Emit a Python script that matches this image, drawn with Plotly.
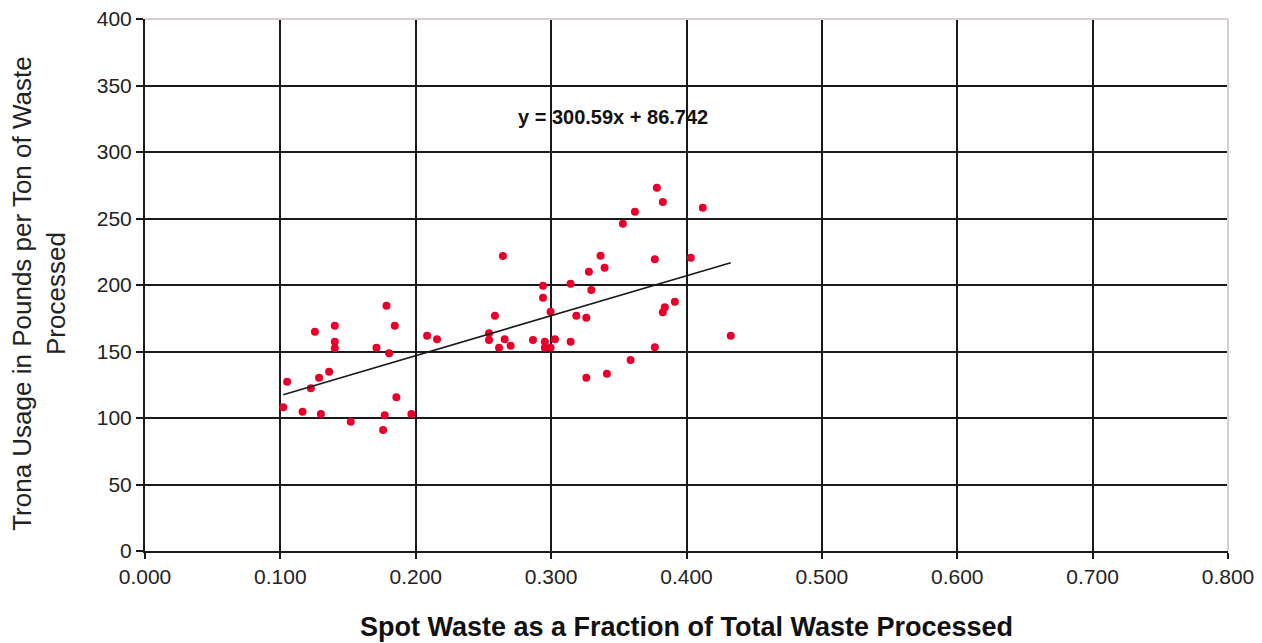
import numpy as np
import plotly.graph_objects as go

# Data
spot_fraction = [
    0.1784, 0.1845, 0.1255, 0.1402, 0.1402, 0.1402, 0.1710, 0.1803, 0.2084, 0.2157,
    0.1050, 0.1286, 0.1360, 0.1225, 0.1021, 0.1164, 0.1299, 0.1857, 0.1771, 0.1968,
    0.1520, 0.1759,
    0.2644, 0.2940, 0.2940, 0.3144, 0.3279, 0.3297, 0.2996, 0.2585, 0.3186, 0.3260,
    0.2541, 0.2541, 0.2657, 0.2615, 0.2701, 0.2866, 0.2954, 0.2954, 0.2996, 0.3028,
    0.3144, 0.3260,
    0.3781, 0.3825, 0.3619, 0.4120, 0.3530, 0.3365, 0.3395, 0.3766, 0.4032, 0.3914,
    0.3840, 0.3825, 0.4327, 0.3766, 0.3587, 0.3412,
]
trona_usage = [
    184.4, 169.4, 164.9, 169.4, 157.4, 152.4, 152.9, 148.6, 161.9, 159.2,
    127.3, 130.3, 134.8, 122.3, 108.0, 104.7, 103.0, 115.6, 102.0, 103.0,
    97.2, 91.0,
    221.8, 199.5, 190.5, 201.0, 210.0, 196.2, 179.9, 176.9, 176.9, 175.4,
    163.7, 158.6, 159.2, 152.9, 154.4, 158.6, 157.4, 152.9, 152.9, 159.2,
    157.4, 130.3,
    273.2, 262.4, 255.1, 258.1, 246.1, 222.0, 213.0, 219.3, 220.5, 187.4,
    183.2, 179.5, 161.9, 153.2, 143.6, 133.3,
]
trend_slope = 300.59
trend_intercept = 86.742
x_ticks = [0.0, 0.1, 0.2, 0.3, 0.4, 0.5, 0.6, 0.7, 0.8]
x_tick_labels = ["0.000", "0.100", "0.200", "0.300", "0.400", "0.500", "0.600", "0.700", "0.800"]
y_ticks = [0, 50, 100, 150, 200, 250, 300, 350, 400]

tx = np.array([min(spot_fraction), max(spot_fraction)])
ty = trend_slope * tx + trend_intercept

FONT = "Liberation Sans, Arial, sans-serif"

fig = go.Figure()
fig.add_trace(go.Scatter(
    x=spot_fraction, y=trona_usage, mode="markers",
    marker=dict(color="#E8002A", size=8, line=dict(width=0)),
    showlegend=False, hoverinfo="x+y",
))
fig.add_trace(go.Scatter(
    x=tx, y=ty, mode="lines",
    line=dict(color="#1a1a1a", width=1.6),
    showlegend=False, hoverinfo="skip",
))

axis_font = dict(family=FONT, size=21, color="#222222")

fig.update_layout(
    width=1262, height=643,
    margin=dict(l=145, r=34, t=19, b=92),
    paper_bgcolor="white", plot_bgcolor="white",
    font=dict(family=FONT, color="#222222"),
    xaxis=dict(
        range=[0, 0.8], tickvals=x_ticks, ticktext=x_tick_labels,
        showgrid=True, gridcolor="#1a1a1a", gridwidth=2,
        showline=True, linecolor="#1a1a1a", linewidth=2,
        ticks="outside", ticklen=6, tickcolor="#1a1a1a", tickwidth=1.5,
        tickfont=axis_font, zeroline=False, automargin=False,
        title=dict(text="<b>Spot Waste as a Fraction of Total Waste Processed</b>",
                   font=dict(family=FONT, size=27, color="#111111"),
                   standoff=30),
    ),
    yaxis=dict(
        range=[0, 400], tickvals=y_ticks,
        showgrid=True, gridcolor="#1a1a1a", gridwidth=2,
        showline=True, linecolor="#1a1a1a", linewidth=2,
        ticks="outside", ticklen=7, tickcolor="#1a1a1a", tickwidth=1.5,
        tickfont=axis_font, zeroline=False, automargin=False,
    ),
    shapes=[
        dict(type="line", xref="paper", yref="paper", x0=0, x1=1, y0=1, y1=1,
             line=dict(color="#D8D0CC", width=2), layer="above"),
        dict(type="line", xref="paper", yref="paper", x0=1, x1=1, y0=0, y1=1,
             line=dict(color="#D8D0CC", width=2), layer="above"),
    ],
    annotations=[
        dict(x=0.3454, y=326, xref="x", yref="y", showarrow=False,
             text="<b>y = 300.59x + 86.742</b>",
             font=dict(family=FONT, size=20, color="#111111")),
        dict(x=-0.098, y=0.485, xref="paper", yref="paper", showarrow=False,
             xanchor="center", yanchor="middle", textangle=-90,
             text="Trona Usage in Pounds per Ton of Waste<br>Processed",
             font=dict(family=FONT, size=26, color="#222222")),
    ],
)

fig.write_html("out.html")
